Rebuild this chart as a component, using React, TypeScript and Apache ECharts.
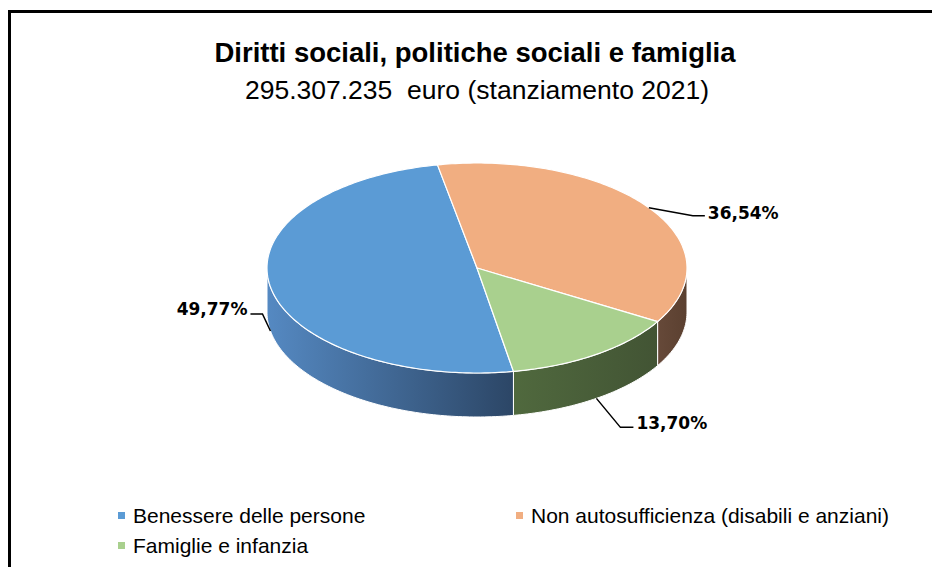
import React, { useEffect, useRef } from 'react';
import * as echarts from 'echarts';

// ---------- data ----------
const categories = [
  'Benessere delle persone',
  'Non autosufficienza (disabili e anziani)',
  'Famiglie e infanzia',
];
const shares = [49.77, 36.54, 13.7];
const titleText = 'Diritti sociali, politiche sociali e famiglia';
const subtitleText = '295.307.235  euro (stanziamento 2021)';

// ---------- styles / layout ----------
const topColors = ['#5b9bd5', '#f1ae81', '#a9d08e'];
const sideColors = [
  ['#5589c2', '#2c4666'],
  ['#664939', '#5b4030'],
  ['#50693e', '#425434'],
];
const CX = 477;
const CY = 268;
const RX = 210;
const RY = 105;
const DEPTH = 44;
const START_DEG = 170;
const LEADERS = [
  { elbow: [-8, -17], end: [-20, -17], label: [-23, -22], align: 'right' },
  { elbow: [44, 8], end: [56, 8], label: [59, 5], align: 'left' },
  { elbow: [24, 29], end: [37, 29], label: [40, 25], align: 'left' },
];
const UI_FONT = '"Liberation Sans", Arial, sans-serif';
const LABEL_FONT = '"DejaVu Sans", Verdana, sans-serif';

const total = shares.reduce((a, b) => a + b, 0);
const startAngles: number[] = [];
{
  let acc = START_DEG;
  shares.forEach((v) => {
    startAngles.push(acc);
    acc += (v / total) * 360;
  });
}

function pt(deg: number, dy = 0): number[] {
  const r = (deg * Math.PI) / 180;
  return [CX + RX * Math.sin(r), CY - RY * Math.cos(r) + dy];
}

function arc(s: number, e: number, dy = 0): number[][] {
  const pts: number[][] = [];
  const n = Math.max(2, Math.ceil(e - s));
  for (let k = 0; k <= n; k++) pts.push(pt(s + ((e - s) * k) / n, dy));
  return pts;
}

function fmt(v: number): string {
  return v.toFixed(2).replace('.', ',') + '%';
}

function makeRender(i: number) {
  return function renderItem(params: any, api: any) {
    const v = api.value(0) as number;
    const s = startAngles[i];
    const e = s + (v / total) * 360;
    const children: any[] = [];
    // side faces (front half: 90..270 deg)
    for (let k = -1; k <= 1; k++) {
      const lo = Math.max(s, 90 + 360 * k);
      const hi = Math.min(e, 270 + 360 * k);
      if (hi > lo) {
        const top = arc(lo, hi);
        const bottom = arc(lo, hi, DEPTH).reverse();
        children.push({
          type: 'polygon',
          shape: { points: top.concat(bottom) },
          style: {
            fill: {
              type: 'linear',
              x: 0,
              y: 0,
              x2: 1,
              y2: 0,
              colorStops: [
                { offset: 0, color: sideColors[i][0] },
                { offset: 1, color: sideColors[i][1] },
              ],
            },
            stroke: '#ffffff',
            lineWidth: 1,
          },
          z2: 1,
        });
      }
    }
    // top face
    children.push({
      type: 'polygon',
      shape: { points: [[CX, CY]].concat(arc(s, e)) },
      style: { fill: topColors[i], stroke: '#ffffff', lineWidth: 1.2 },
      z2: 2,
    });
    // leader line & label
    const mid = (s + e) / 2;
    const r = (mid * Math.PI) / 180;
    const front = Math.cos(r) < 0;
    const a = pt(mid, front ? DEPTH : 0);
    const L = LEADERS[i];
    children.push({
      type: 'polyline',
      shape: {
        points: [
          a,
          [a[0] + L.elbow[0], a[1] + L.elbow[1]],
          [a[0] + L.end[0], a[1] + L.end[1]],
        ],
      },
      style: { stroke: '#000000', lineWidth: 1.5, fill: null },
      z2: 3,
    });
    children.push({
      type: 'text',
      style: {
        text: fmt(v),
        x: a[0] + L.label[0],
        y: a[1] + L.label[1],
        align: L.align,
        verticalAlign: 'middle',
        fill: '#000000',
        fontFamily: LABEL_FONT,
        fontWeight: 'bold',
        fontSize: 17,
      },
      z2: 4,
    });
    return { type: 'group', children };
  };
}

export default function App() {
  const ref = useRef<HTMLDivElement>(null);
  useEffect(() => {
    document.body.style.margin = '0';
    const chart = echarts.init(ref.current!, null, { renderer: 'svg' });
    const legendBase = {
      icon: 'rect',
      itemWidth: 7,
      itemHeight: 7,
      itemGap: 10,
      padding: 0,
      textStyle: { fontFamily: UI_FONT, fontSize: 21, color: '#000000', padding: [0, 0, 0, 3] },
      selectedMode: false,
    };
    chart.setOption({
      animation: false,
      backgroundColor: '#ffffff',
      legend: [
        { ...legendBase, data: [categories[0]], left: 118, top: 505 },
        { ...legendBase, data: [categories[1]], left: 516, top: 505 },
        { ...legendBase, data: [categories[2]], left: 118, top: 535 },
      ],
      series: categories.map((name, i) => ({
        type: 'custom',
        name,
        coordinateSystem: 'none',
        itemStyle: { color: topColors[i] },
        data: [[shares[i]]],
        renderItem: makeRender(i),
      })),
      graphic: [
        {
          type: 'line',
          shape: { x1: 8, y1: 11.5, x2: 932, y2: 11.5 },
          style: { stroke: '#000000', lineWidth: 3 },
        },
        {
          type: 'line',
          shape: { x1: 9.5, y1: 10, x2: 9.5, y2: 567 },
          style: { stroke: '#000000', lineWidth: 3 },
        },
        {
          type: 'text',
          x: 475,
          y: 52,
          style: {
            text: titleText,
            align: 'center',
            verticalAlign: 'middle',
            fill: '#000000',
            fontFamily: UI_FONT,
            fontWeight: 'bold',
            fontSize: 27.5,
          },
        },
        {
          type: 'text',
          x: 477,
          y: 90,
          style: {
            text: subtitleText,
            align: 'center',
            verticalAlign: 'middle',
            fill: '#000000',
            fontFamily: UI_FONT,
            fontSize: 26.5,
          },
        },
      ],
    });
    return () => chart.dispose();
  }, []);
  return <div ref={ref} style={{ width: 932, height: 567 }} />;
}
